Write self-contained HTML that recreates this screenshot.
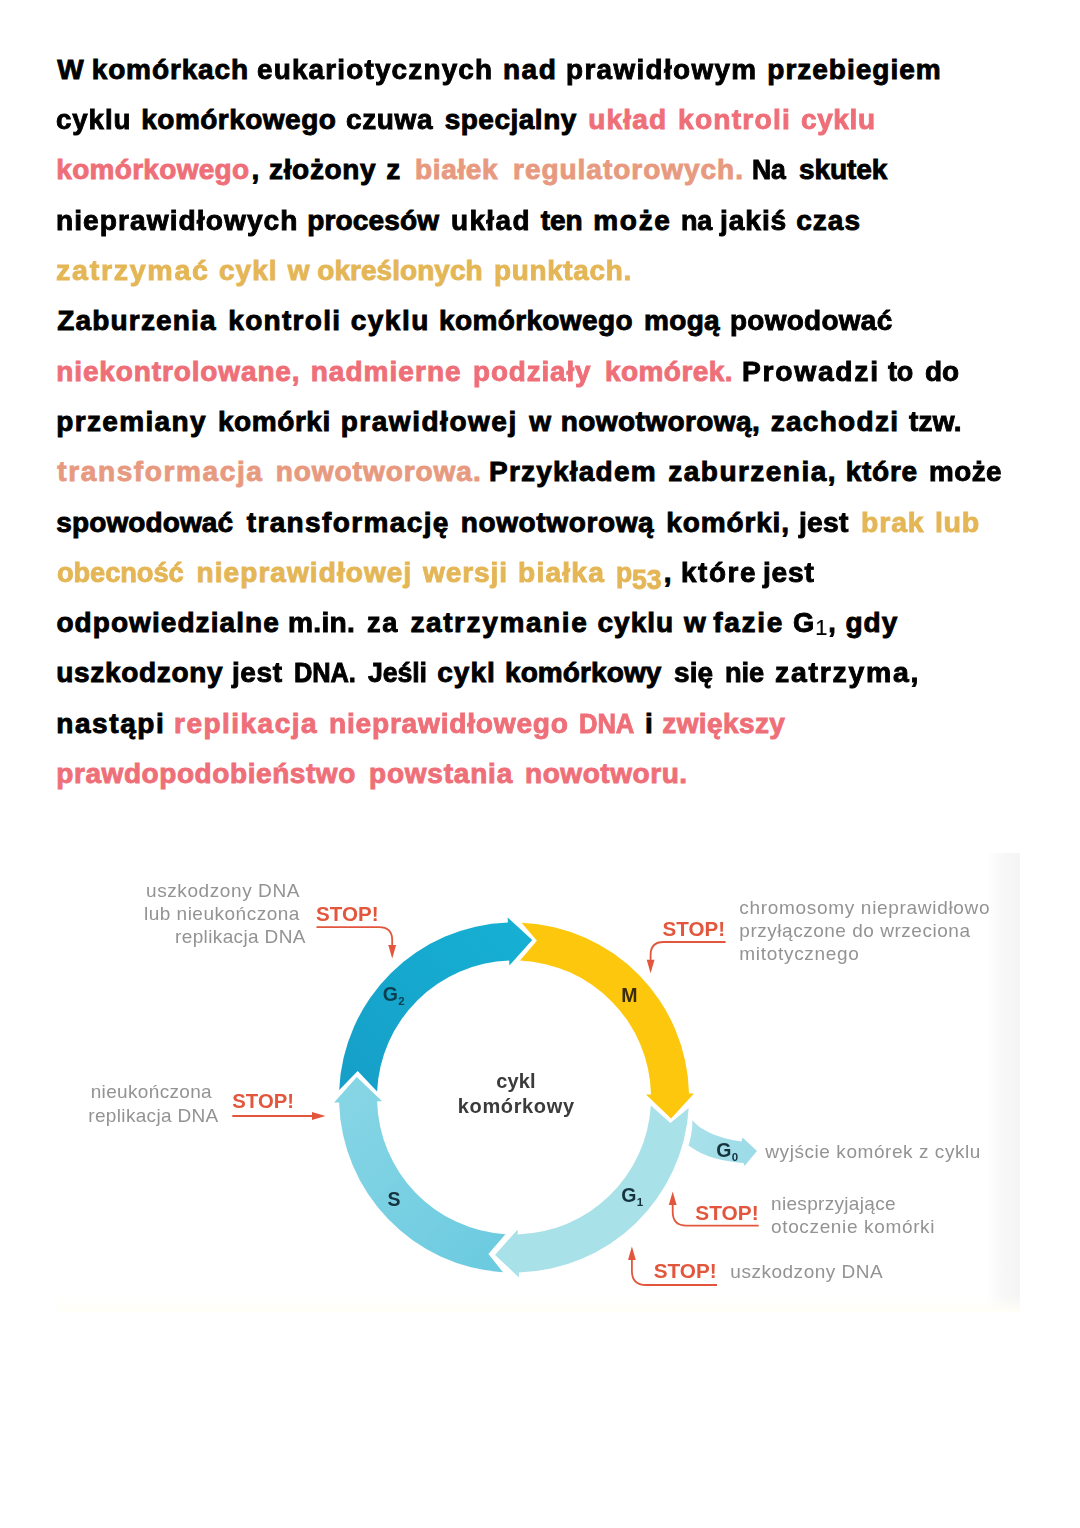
<!DOCTYPE html>
<html lang="pl"><head><meta charset="utf-8"><title>Cykl komórkowy</title>
<style>
html,body{margin:0;padding:0;background:#fff}
body{width:1080px;height:1528px;position:relative;overflow:hidden;font-family:"Liberation Sans",sans-serif}
.t{position:absolute;transform-origin:0 0;white-space:nowrap;font-weight:bold;font-size:28.0px;line-height:32px;height:32px;-webkit-text-stroke:0.9px}
.sb{font-size:.8em;font-weight:normal;-webkit-text-stroke:0.2px;position:relative;top:.13em;margin:0 1px}
.os{position:relative;top:.24em}
.p{color:#ef6f79}.s{color:#e89a80}.g{color:#e4b656}
#dg{position:absolute;left:57px;top:853px;width:963px;height:459px}
</style></head>
<body>
<span class="t" style="left:57.3px;top:53.8px;">W</span>
<span class="t" style="left:91.7px;top:53.8px;letter-spacing:0.88px;">komórkach</span>
<span class="t" style="left:257.3px;top:53.8px;letter-spacing:1.17px;transform:scaleX(0.997);">eukariotycznych</span>
<span class="t" style="left:503.0px;top:53.8px;letter-spacing:1.50px;">nad</span>
<span class="t" style="left:566.3px;top:53.8px;letter-spacing:1.37px;transform:scaleX(0.995);">prawidłowym</span>
<span class="t" style="left:767.3px;top:53.8px;letter-spacing:1.00px;">przebiegiem</span>
<span class="t" style="left:56.3px;top:104.1px;letter-spacing:0.93px;transform:scaleX(0.988);">cyklu</span>
<span class="t" style="left:141.3px;top:104.1px;letter-spacing:0.47px;">komórkowego</span>
<span class="t" style="left:345.7px;top:104.1px;letter-spacing:0.65px;transform:scaleX(0.998);">czuwa</span>
<span class="t" style="left:444.7px;top:104.1px;letter-spacing:0.50px;">specjalny</span>
<span class="t p" style="left:588.3px;top:104.1px;letter-spacing:1.18px;">układ</span>
<span class="t p" style="left:678.0px;top:104.1px;letter-spacing:1.19px;transform:scaleX(1.008);">kontroli</span>
<span class="t p" style="left:800.7px;top:104.1px;letter-spacing:0.65px;transform:scaleX(0.997);">cyklu</span>
<span class="t p" style="left:56.3px;top:154.4px;letter-spacing:0.30px;">komórkowego</span>
<span class="t" style="left:251.5px;top:154.4px;">,</span>
<span class="t" style="left:269.0px;top:154.4px;letter-spacing:0.67px;">złożony</span>
<span class="t" style="left:386.3px;top:154.4px;">z</span>
<span class="t s" style="left:415.0px;top:154.4px;letter-spacing:0.66px;">białek</span>
<span class="t s" style="left:513.0px;top:154.4px;letter-spacing:0.98px;">regulatorowych.</span>
<span class="t" style="left:752.3px;top:154.4px;letter-spacing:-0.10px;transform:scaleX(0.949);">Na</span>
<span class="t" style="left:799.0px;top:154.4px;letter-spacing:-0.06px;">skutek</span>
<span class="t" style="left:56.3px;top:204.7px;letter-spacing:1.05px;transform:scaleX(1.005);">nieprawidłowych</span>
<span class="t" style="left:307.3px;top:204.7px;letter-spacing:0.14px;">procesów</span>
<span class="t" style="left:450.7px;top:204.7px;letter-spacing:1.40px;transform:scaleX(0.997);">układ</span>
<span class="t" style="left:540.7px;top:204.7px;">ten</span>
<span class="t" style="left:593.3px;top:204.7px;letter-spacing:1.67px;">może</span>
<span class="t" style="left:680.7px;top:204.7px;letter-spacing:-0.10px;transform:scaleX(0.963);">na</span>
<span class="t" style="left:719.5px;top:204.7px;letter-spacing:0.88px;transform:scaleX(1.008);">jakiś</span>
<span class="t" style="left:796.3px;top:204.7px;letter-spacing:1.00px;">czas</span>
<span class="t g" style="left:56.3px;top:255.0px;letter-spacing:1.70px;transform:scaleX(1.020);">zatrzymać</span>
<span class="t g" style="left:219.0px;top:255.0px;letter-spacing:1.00px;">cykl</span>
<span class="t g" style="left:287.7px;top:255.0px;">w</span>
<span class="t g" style="left:317.3px;top:255.0px;letter-spacing:0.04px;">określonych</span>
<span class="t g" style="left:494.0px;top:255.0px;letter-spacing:0.69px;transform:scaleX(0.996);">punktach.</span>
<span class="t" style="left:57.3px;top:305.3px;letter-spacing:1.16px;">Zaburzenia</span>
<span class="t" style="left:228.3px;top:305.3px;letter-spacing:1.29px;">kontroli</span>
<span class="t" style="left:350.7px;top:305.3px;letter-spacing:1.50px;">cyklu</span>
<span class="t" style="left:439.0px;top:305.3px;letter-spacing:0.37px;">komórkowego</span>
<span class="t" style="left:644.0px;top:305.3px;letter-spacing:0.33px;">mogą</span>
<span class="t" style="left:730.0px;top:305.3px;letter-spacing:0.31px;transform:scaleX(0.997);">powodować</span>
<span class="t p" style="left:56.3px;top:355.6px;letter-spacing:0.87px;">niekontrolowane,</span>
<span class="t p" style="left:310.7px;top:355.6px;letter-spacing:1.04px;">nadmierne</span>
<span class="t p" style="left:473.3px;top:355.6px;letter-spacing:0.91px;transform:scaleX(0.993);">podziały</span>
<span class="t p" style="left:605.0px;top:355.6px;letter-spacing:0.43px;">komórek.</span>
<span class="t" style="left:742.3px;top:355.6px;letter-spacing:1.70px;transform:scaleX(1.009);">Prowadzi</span>
<span class="t" style="left:888.3px;top:355.6px;letter-spacing:-0.10px;transform:scaleX(0.962);">to</span>
<span class="t" style="left:925.0px;top:355.6px;letter-spacing:-0.10px;transform:scaleX(0.997);">do</span>
<span class="t" style="left:56.3px;top:405.9px;letter-spacing:1.34px;">przemiany</span>
<span class="t" style="left:218.0px;top:405.9px;letter-spacing:0.55px;">komórki</span>
<span class="t" style="left:340.7px;top:405.9px;letter-spacing:1.53px;">prawidłowej</span>
<span class="t" style="left:529.3px;top:405.9px;">w</span>
<span class="t" style="left:560.7px;top:405.9px;letter-spacing:0.42px;">nowotworową,</span>
<span class="t" style="left:770.7px;top:405.9px;letter-spacing:1.29px;">zachodzi</span>
<span class="t" style="left:909.3px;top:405.9px;letter-spacing:0.23px;transform:scaleX(1.002);">tzw.</span>
<span class="t s" style="left:57.3px;top:456.2px;letter-spacing:1.62px;">transformacja</span>
<span class="t s" style="left:275.7px;top:456.2px;letter-spacing:0.96px;">nowotworowa.</span>
<span class="t" style="left:489.0px;top:456.2px;letter-spacing:1.22px;">Przykładem</span>
<span class="t" style="left:668.3px;top:456.2px;letter-spacing:1.47px;">zaburzenia,</span>
<span class="t" style="left:845.7px;top:456.2px;letter-spacing:0.75px;">które</span>
<span class="t" style="left:929.0px;top:456.2px;letter-spacing:0.50px;transform:scaleX(0.993);">może</span>
<span class="t" style="left:56.3px;top:506.5px;letter-spacing:0.11px;">spowodować</span>
<span class="t" style="left:246.7px;top:506.5px;letter-spacing:1.38px;">transformację</span>
<span class="t" style="left:460.7px;top:506.5px;letter-spacing:0.63px;">nowotworową</span>
<span class="t" style="left:666.3px;top:506.5px;letter-spacing:0.86px;">komórki,</span>
<span class="t" style="left:798.5px;top:506.5px;letter-spacing:0.27px;transform:scaleX(1.008);">jest</span>
<span class="t g" style="left:860.7px;top:506.5px;letter-spacing:0.87px;transform:scaleX(1.013);">brak</span>
<span class="t g" style="left:935.0px;top:506.5px;letter-spacing:0.65px;transform:scaleX(1.022);">lub</span>
<span class="t g" style="left:57.3px;top:556.8px;letter-spacing:-0.10px;transform:scaleX(0.974);">obecność</span>
<span class="t g" style="left:196.5px;top:556.8px;letter-spacing:1.08px;">nieprawidłowej</span>
<span class="t g" style="left:423.2px;top:556.8px;letter-spacing:0.88px;transform:scaleX(1.002);">wersji</span>
<span class="t g" style="left:517.9px;top:556.8px;letter-spacing:1.22px;transform:scaleX(1.004);">białka</span>
<span class="t g" style="left:615.7px;top:556.8px;letter-spacing:-0.10px;transform:scaleX(0.947);">p<span class=os>53</span></span>
<span class="t" style="left:663.8px;top:556.8px;">,</span>
<span class="t" style="left:681.0px;top:556.8px;letter-spacing:1.62px;transform:scaleX(0.993);">które</span>
<span class="t" style="left:763.0px;top:556.8px;letter-spacing:0.80px;transform:scaleX(1.004);">jest</span>
<span class="t" style="left:56.4px;top:607.1px;letter-spacing:1.07px;">odpowiedzialne</span>
<span class="t" style="left:288.4px;top:607.1px;letter-spacing:0.28px;transform:scaleX(1.005);">m.in.</span>
<span class="t" style="left:366.8px;top:607.1px;letter-spacing:1.70px;transform:scaleX(0.971);">za</span>
<span class="t" style="left:410.4px;top:607.1px;letter-spacing:1.61px;">zatrzymanie</span>
<span class="t" style="left:597.5px;top:607.1px;letter-spacing:1.00px;">cyklu</span>
<span class="t" style="left:684.0px;top:607.1px;">w</span>
<span class="t" style="left:713.3px;top:607.1px;letter-spacing:1.68px;">fazie</span>
<span class="t" style="left:792.5px;top:607.1px;letter-spacing:-0.10px;transform:scaleX(0.976);">G<span class="sb">1</span>,</span>
<span class="t" style="left:845.5px;top:607.1px;letter-spacing:1.00px;">gdy</span>
<span class="t" style="left:56.3px;top:657.4px;letter-spacing:0.67px;">uszkodzony</span>
<span class="t" style="left:232.0px;top:657.4px;letter-spacing:0.57px;transform:scaleX(1.002);">jest</span>
<span class="t" style="left:294.0px;top:657.4px;letter-spacing:-0.10px;transform:scaleX(0.909);">DNA.</span>
<span class="t" style="left:368.3px;top:657.4px;letter-spacing:-0.10px;transform:scaleX(0.954);">Jeśli</span>
<span class="t" style="left:437.3px;top:657.4px;letter-spacing:1.00px;">cykl</span>
<span class="t" style="left:505.0px;top:657.4px;letter-spacing:0.09px;">komórkowy</span>
<span class="t" style="left:674.0px;top:657.4px;letter-spacing:0.15px;transform:scaleX(0.998);">się</span>
<span class="t" style="left:725.0px;top:657.4px;letter-spacing:-0.10px;transform:scaleX(0.972);">nie</span>
<span class="t" style="left:775.0px;top:657.4px;letter-spacing:1.70px;transform:scaleX(1.015);">zatrzyma,</span>
<span class="t" style="left:56.3px;top:707.7px;letter-spacing:1.57px;">nastąpi</span>
<span class="t p" style="left:174.0px;top:707.7px;letter-spacing:1.48px;">replikacja</span>
<span class="t p" style="left:329.0px;top:707.7px;letter-spacing:0.76px;transform:scaleX(1.005);">nieprawidłowego</span>
<span class="t p" style="left:579.0px;top:707.7px;letter-spacing:-0.10px;transform:scaleX(0.915);">DNA</span>
<span class="t" style="left:645.0px;top:707.7px;">i</span>
<span class="t p" style="left:662.3px;top:707.7px;letter-spacing:0.39px;">zwiększy</span>
<span class="t p" style="left:56.3px;top:758.0px;letter-spacing:0.57px;">prawdopodobieństwo</span>
<span class="t p" style="left:369.0px;top:758.0px;letter-spacing:0.79px;">powstania</span>
<span class="t p" style="left:525.0px;top:758.0px;letter-spacing:0.56px;">nowotworu.</span>
<svg id="dg" viewBox="57 853 963 459" width="963" height="459">
<defs>
<linearGradient id="gG2" gradientUnits="userSpaceOnUse" x1="345" y1="1090" x2="520" y2="925"><stop offset="0" stop-color="#189fc8"/><stop offset="1" stop-color="#14b0d3"/></linearGradient>
<linearGradient id="gS" gradientUnits="userSpaceOnUse" x1="500" y1="1255" x2="350" y2="1090"><stop offset="0" stop-color="#6ccbe0"/><stop offset="1" stop-color="#86d5e5"/></linearGradient>
<linearGradient id="gG0" gradientUnits="userSpaceOnUse" x1="690" y1="1130" x2="757" y2="1152"><stop offset="0" stop-color="#aae1ea"/><stop offset="1" stop-color="#9bdbe7"/></linearGradient>
<linearGradient id="gR" x1="0" y1="0" x2="1" y2="0"><stop offset="0" stop-color="#ffffff"/><stop offset="0.55" stop-color="#f7f7f7"/><stop offset="1" stop-color="#f5f5f5"/></linearGradient>
<linearGradient id="gB" x1="0" y1="0" x2="0" y2="1"><stop offset="0" stop-color="#fffef8" stop-opacity="0"/><stop offset="1" stop-color="#fffef7"/></linearGradient>
<filter id="bl" x="-2%" y="-2%" width="104%" height="104%"><feGaussianBlur stdDeviation="0.6"/></filter>
</defs>
<rect x="57" y="853" width="963" height="459" fill="#ffffff"/>
<rect x="986" y="853" width="34" height="459" fill="url(#gR)"/>
<rect x="57" y="1296" width="963" height="16" fill="url(#gB)"/>
<g filter="url(#bl)">
<path d="M339.2,1089.9 A175.0,175.0 0 0 1 507.9,922.6 L507.7,917.6 L532.2,940.1 L509.4,965.6 L509.2,960.6 A137.0,137.0 0 0 0 377.1,1091.5 L357.7,1071.1 Z" fill="url(#gG2)"/>
<path d="M521.6,922.7 A175.0,175.0 0 0 1 689.0,1093.5 L694.0,1093.4 L671.1,1118.5 L646.0,1094.5 L651.0,1094.4 A137.0,137.0 0 0 0 520.0,960.6 L536.9,940.7 Z" fill="#fcc70a"/>
<path d="M688.7,1107.9 A175.0,175.0 0 0 1 518.9,1272.4 L519.0,1277.4 L495.0,1254.9 L517.7,1229.4 L517.8,1234.4 A137.0,137.0 0 0 0 650.8,1105.6 L670.4,1123.1 Z" fill="#a9e1e9"/>
<path d="M503.0,1272.2 A175.0,175.0 0 0 1 339.1,1102.4 L334.1,1102.5 L356.8,1077.1 L382.1,1101.2 L377.1,1101.3 A137.0,137.0 0 0 0 505.4,1234.2 L488.4,1253.9 Z" fill="url(#gS)"/>
<path d="M692.5,1120 C699,1129 716,1138 741.5,1141.5 L742.5,1137.5 L757,1151 L744.5,1166 L743.5,1163 C716,1161 700,1154 688.5,1145.5 C691,1137 692.5,1129 692.5,1120 Z" fill="url(#gG0)"/>
<text x="382.8" y="1001.3" font-family="Liberation Sans, sans-serif" font-weight="bold" fill="#0b3f50" font-size="19.5">G<tspan font-size="11.5" dx="0.3" dy="4">2</tspan></text>
<text x="621.2" y="1001.6" font-family="Liberation Sans, sans-serif" font-weight="bold" fill="#3a2a10" font-size="19.5">M</text>
<text x="387.6" y="1206.3" font-family="Liberation Sans, sans-serif" font-weight="bold" fill="#14323c" font-size="19.5">S</text>
<text x="621.3" y="1202.3" font-family="Liberation Sans, sans-serif" font-weight="bold" fill="#14323c" font-size="19.5">G<tspan font-size="11.5" dx="0.3" dy="4">1</tspan></text>
<text x="716.3" y="1156.5" font-family="Liberation Sans, sans-serif" font-weight="bold" fill="#14323c" font-size="19.5">G<tspan font-size="11.5" dx="0.3" dy="4">0</tspan></text>
<text x="496.3" y="1088.1" font-family="Liberation Sans, sans-serif" font-weight="bold" font-size="20" fill="#3a3a3a" textLength="39.3" lengthAdjust="spacing">cykl</text>
<text x="457.8" y="1113.3" font-family="Liberation Sans, sans-serif" font-weight="bold" font-size="20" fill="#3a3a3a" textLength="116.2" lengthAdjust="spacing">komórkowy</text>
<text x="316" y="920.5" font-family="Liberation Sans, sans-serif" font-weight="bold" font-size="20.5" fill="#e2573c" textLength="62.5" lengthAdjust="spacingAndGlyphs">STOP!</text>
<path d="M316.5,927.1 H379 Q392.2,927.1 392.2,940 V946" fill="none" stroke="#e2573c" stroke-width="1.8"/>
<path d="M392.2,958.5 L388.3,945.0 L396.1,945.0 Z" fill="#e2573c"/>
<text x="662.6" y="936" font-family="Liberation Sans, sans-serif" font-weight="bold" font-size="20.5" fill="#e2573c" textLength="62.5" lengthAdjust="spacingAndGlyphs">STOP!</text>
<path d="M725.6,942 H663.5 Q650.6,942 650.6,955 V961" fill="none" stroke="#e2573c" stroke-width="1.8"/>
<path d="M650.6,973.3 L646.7,959.8 L654.5,959.8 Z" fill="#e2573c"/>
<text x="232.3" y="1108.3" font-family="Liberation Sans, sans-serif" font-weight="bold" font-size="20.5" fill="#e2573c" textLength="61.7" lengthAdjust="spacingAndGlyphs">STOP!</text>
<path d="M232.3,1116 H314" fill="none" stroke="#e2573c" stroke-width="1.8"/>
<path d="M325.5,1116.0 L312.0,1119.9 L312.0,1112.1 Z" fill="#e2573c"/>
<text x="695.3" y="1219.5" font-family="Liberation Sans, sans-serif" font-weight="bold" font-size="20.5" fill="#e2573c" textLength="63.4" lengthAdjust="spacingAndGlyphs">STOP!</text>
<path d="M758.7,1225.6 H686.5 Q672.7,1225.6 672.7,1212 V1203" fill="none" stroke="#e2573c" stroke-width="1.8"/>
<path d="M672.7,1191.5 L676.6,1205.0 L668.8,1205.0 Z" fill="#e2573c"/>
<text x="653.7" y="1277.5" font-family="Liberation Sans, sans-serif" font-weight="bold" font-size="20.5" fill="#e2573c" textLength="63" lengthAdjust="spacingAndGlyphs">STOP!</text>
<path d="M717,1285 H646 Q631.9,1285 631.9,1271 V1258" fill="none" stroke="#e2573c" stroke-width="1.8"/>
<path d="M631.9,1246.4 L635.8,1259.9 L628.0,1259.9 Z" fill="#e2573c"/>
<text x="146" y="896.7" font-family="Liberation Sans, sans-serif" font-size="19" fill="#939393" text-anchor="start" textLength="153.4" lengthAdjust="spacing">uszkodzony DNA</text>
<text x="143.9" y="919.7" font-family="Liberation Sans, sans-serif" font-size="19" fill="#939393" text-anchor="start" textLength="155.5" lengthAdjust="spacing">lub nieukończona</text>
<text x="175" y="943.3" font-family="Liberation Sans, sans-serif" font-size="19" fill="#939393" text-anchor="start" textLength="130.5" lengthAdjust="spacing">replikacja DNA</text>
<text x="739.3" y="913.7" font-family="Liberation Sans, sans-serif" font-size="19" fill="#939393" text-anchor="start" textLength="250.3" lengthAdjust="spacing">chromosomy nieprawidłowo</text>
<text x="739.3" y="936.7" font-family="Liberation Sans, sans-serif" font-size="19" fill="#939393" text-anchor="start" textLength="230.7" lengthAdjust="spacing">przyłączone do wrzeciona</text>
<text x="739.3" y="960" font-family="Liberation Sans, sans-serif" font-size="19" fill="#939393" text-anchor="start" textLength="119.6" lengthAdjust="spacing">mitotycznego</text>
<text x="90.7" y="1098.3" font-family="Liberation Sans, sans-serif" font-size="19" fill="#939393" text-anchor="start" textLength="121" lengthAdjust="spacing">nieukończona</text>
<text x="88.3" y="1121.7" font-family="Liberation Sans, sans-serif" font-size="19" fill="#939393" text-anchor="start" textLength="130" lengthAdjust="spacing">replikacja DNA</text>
<text x="765.3" y="1158" font-family="Liberation Sans, sans-serif" font-size="19" fill="#939393" text-anchor="start" textLength="215.1" lengthAdjust="spacing">wyjście komórek z cyklu</text>
<text x="771" y="1209.8" font-family="Liberation Sans, sans-serif" font-size="19" fill="#939393" text-anchor="start" textLength="124.6" lengthAdjust="spacing">niesprzyjające</text>
<text x="771" y="1233" font-family="Liberation Sans, sans-serif" font-size="19" fill="#939393" text-anchor="start" textLength="163.5" lengthAdjust="spacing">otoczenie komórki</text>
<text x="730.3" y="1277.5" font-family="Liberation Sans, sans-serif" font-size="19" fill="#939393" text-anchor="start" textLength="152.5" lengthAdjust="spacing">uszkodzony DNA</text>
</g>
</svg>
</body></html>
